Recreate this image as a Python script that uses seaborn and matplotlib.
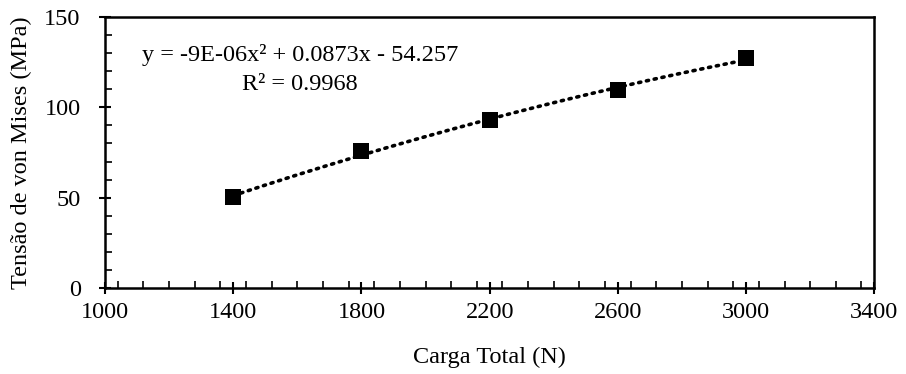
import numpy as np
import pandas as pd
import matplotlib
matplotlib.use("Agg")
import matplotlib.pyplot as plt
from matplotlib.ticker import MultipleLocator
import seaborn as sns

# Data
carga = [1400, 1800, 2200, 2600, 3000]
tensao = [50.2, 75.8, 92.9, 109.5, 127.0]
x_ticks = [1000, 1400, 1800, 2200, 2600, 3000, 3400]
y_ticks = [0, 50, 100, 150]
eq_text = "y = -9E-06x² + 0.0873x - 54.257"
r2_text = "R² = 0.9968"

sns.set_theme(style="white")
plt.rcParams["font.family"] = ["Liberation Serif", "DejaVu Serif"]

FS = 17.5

df = pd.DataFrame({"Carga": carga, "Tensao": tensao})

fig = plt.figure(figsize=(9.06, 3.74), dpi=100)
ax = fig.add_axes([0.1159, 0.229, 0.965 - 0.1159, 0.9553 - 0.229])

# trendline (2nd order polynomial fit)
coef = np.polyfit(df["Carga"], df["Tensao"], 2)
xs = np.linspace(min(carga), max(carga), 200)
ax.plot(xs, np.polyval(coef, xs), linestyle=(0, (0.6, 1.6)), color="black",
        linewidth=2.6, dash_capstyle="round", zorder=2)

sns.scatterplot(data=df, x="Carga", y="Tensao", marker="s", s=120, color="black",
                edgecolor="black", linewidth=0, ax=ax, zorder=3)

ax.set_xlim(1000, 3400)
ax.set_ylim(0, 150)
ax.set_xticks(x_ticks)
ax.set_yticks(y_ticks)
ax.xaxis.set_minor_locator(MultipleLocator(80))
ax.yaxis.set_minor_locator(MultipleLocator(10))
ax.tick_params(axis="both", which="major", direction="inout", length=9, width=1.5,
               labelsize=FS, color="black", labelcolor="black")
ax.tick_params(axis="x", which="major", pad=5.5)
ax.tick_params(axis="y", which="major", pad=13)
ax.tick_params(axis="x", which="minor", direction="in", length=5, width=1.2, color="black",
               bottom=True)
ax.tick_params(axis="y", which="minor", direction="in", length=5, width=1.2, color="black",
               left=True)
ax.tick_params(axis="x", which="both", bottom=True, top=False)
ax.tick_params(axis="y", which="both", left=True, right=False)

for sp in ax.spines.values():
    sp.set_visible(True)
    sp.set_color("black")
    sp.set_linewidth(1.8)

ax.set_xlabel("Carga Total (N)", fontsize=FS, color="black", labelpad=17)
ax.set_ylabel("Tensão de von Mises (MPa)", fontsize=FS, color="black", labelpad=9)

ax.text(0.2535, 0.859, eq_text, transform=ax.transAxes, ha="center", va="center",
        fontsize=FS, color="black")
ax.text(0.2535, 0.752, r2_text, transform=ax.transAxes, ha="center", va="center",
        fontsize=FS, color="black")

fig.savefig("out.png", dpi=100)
